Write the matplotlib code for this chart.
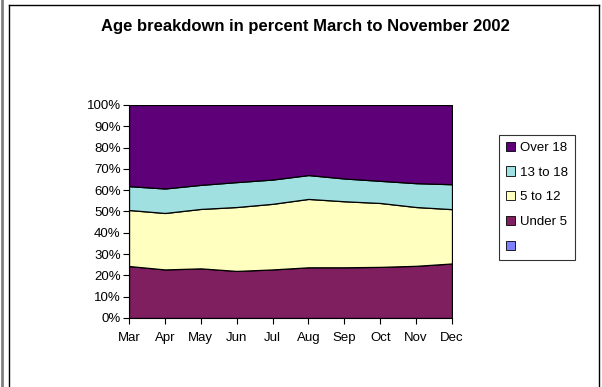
import matplotlib.pyplot as plt
from matplotlib.patches import Patch
from matplotlib.lines import Line2D
import numpy as np

plt.rcParams['font.family'] = ['Liberation Sans', 'DejaVu Sans']

months = ['Mar', 'Apr', 'May', 'Jun', 'Jul', 'Aug', 'Sep', 'Oct', 'Nov', 'Dec']
# percentages (each month sums to 100)
under_5 = [24.4, 22.8, 23.3, 22.1, 22.8, 23.8, 23.8, 24.0, 24.5, 25.6]
age_5_12 = [26.3, 26.5, 27.9, 30.0, 30.8, 32.1, 31.0, 30.0, 27.6, 25.5]
age_13_18 = [11.2, 11.5, 11.3, 11.7, 11.4, 11.2, 10.7, 10.4, 11.2, 11.7]
over_18 = [38.1, 39.2, 37.5, 36.2, 35.0, 32.9, 34.5, 35.6, 36.7, 37.2]

labels = ['Under 5', '5 to 12', '13 to 18', 'Over 18']
colors = ['#7F1F5F', '#FFFFC0', '#A0E0E0', '#5E0078']

fig = plt.figure(figsize=(6.02, 3.87), dpi=100)
ax = fig.add_axes([0.2143, 0.1783, 0.5365, 0.5504])

x = np.arange(len(months))
ax.stackplot(x, under_5, age_5_12, age_13_18, over_18, colors=colors,
             edgecolor='black', linewidth=0.9)

ax.set_xlim(0, len(months) - 1)
ax.set_ylim(0, 100)
ax.set_yticks(range(0, 101, 10))
ax.set_yticklabels([f'{v}%' for v in range(0, 101, 10)], fontsize=9.5)
ax.set_xticks(x)
ax.set_xticklabels(months, fontsize=9.5)
ax.tick_params(axis='both', length=4, width=0.8, color='black')
ax.tick_params(axis='y', pad=2)
ax.tick_params(axis='x', pad=6)
for s in ['top', 'right']:
    ax.spines[s].set_visible(False)
ax.spines['left'].set_linewidth(0.8)
ax.spines['bottom'].set_linewidth(0.8)

fig.text(305.5 / 602, 1 - 27 / 387, 'Age breakdown in percent March to November 2002',
         ha='center', va='center', fontsize=12, fontweight='bold')

handles = [Patch(facecolor=colors[3], edgecolor='black', lw=0.6, label='Over 18'),
           Patch(facecolor=colors[2], edgecolor='black', lw=0.6, label='13 to 18'),
           Patch(facecolor=colors[1], edgecolor='black', lw=0.6, label='5 to 12'),
           Patch(facecolor=colors[0], edgecolor='black', lw=0.6, label='Under 5'),
           Patch(facecolor='#8080FF', edgecolor='black', lw=0.6, label=' ')]
leg = fig.legend(handles=handles, loc='upper left', bbox_to_anchor=(499 / 602, 1 - 135 / 387),
                 fontsize=9.5, frameon=True, fancybox=False, edgecolor='black',
                 handlelength=0.7, handleheight=0.7, handletextpad=0.4,
                 labelspacing=0.95, borderpad=0.5, borderaxespad=0)
leg.get_frame().set_linewidth(0.8)

# outer chart border
W, H = 602, 387
fig.add_artist(Line2D([9 / W, 9 / W], [0, 1 - 5 / H], color='black', lw=1))
fig.add_artist(Line2D([9 / W, 599 / W], [1 - 5 / H, 1 - 5 / H], color='black', lw=1))
fig.add_artist(Line2D([599 / W, 599 / W], [0, 1 - 5 / H], color='black', lw=1))
fig.add_artist(Line2D([1.5 / W, 1.5 / W], [0, 1], color='#808080', lw=2))

fig.savefig('out.png', dpi=100)
